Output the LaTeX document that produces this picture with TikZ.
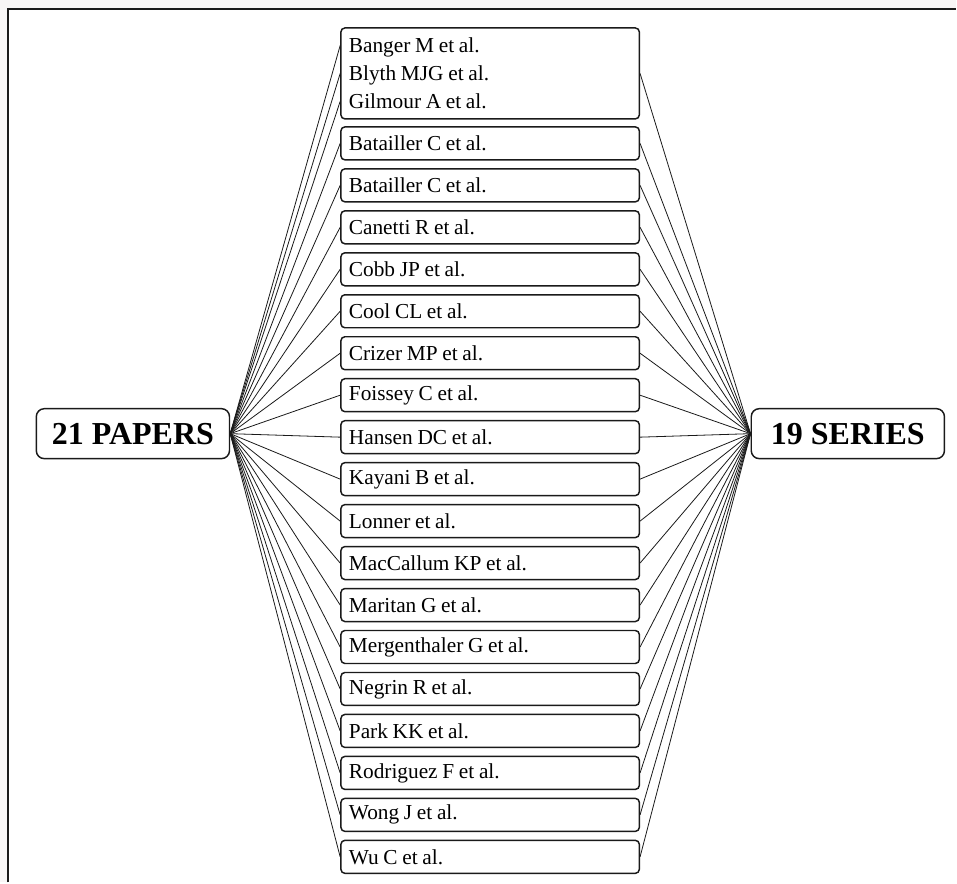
\documentclass[tikz,border=0pt]{standalone}
\usepackage{fontspec}
\setmainfont{Liberation Serif}
\usepackage{tikz}
\usetikzlibrary{positioning, calc}
\definecolor{pagegray}{HTML}{F8F6F6}
\definecolor{inkblack}{HTML}{1A1A1A}
\newcommand\tightspace{\spaceskip=0.22em\relax}

\tikzset{
  paper/.style={draw=inkblack, line width=1.1pt, rounded corners=3pt,
    minimum height=24.75pt, text width=212pt, inner xsep=6pt, align=left,
    font=\fontsize{16}{21}\selectfont,
    execute at begin node=\tightspace},
  hub/.style={draw=inkblack, line width=1.1pt, rounded corners=6pt,
    minimum width=145pt, minimum height=37.5pt,
    font=\fontsize{24}{28}\selectfont\bfseries},
  link/.style={inkblack, line width=0.6pt}
}

\begin{document}
\begin{tikzpicture}[x=0.75pt, y=-0.75pt]
    % Page and frame
    \fill[pagegray] (0,0) rectangle (957,883);
    \fill[white] (8,9) rectangle (957,883);
    \draw[inkblack, line width=1.1pt] (8,883) -- (8,9) -- (957,9);
    \useasboundingbox (0,0) rectangle (957,883);

    % Hubs
    \node[hub] (papers) at (133,434) {21 PAPERS};
    \node[hub] (series) at (848.5,434) {19 SERIES};

    % Shared series (three papers)
    \node[paper, minimum height=68.25pt] (grp) at (490.5,73.5)
        {Banger M et al.\\Blyth MJG et al.\\Gilmour A et al.};
    \coordinate (ban) at ([yshift=21pt]grp.west);
    \coordinate (bly) at (grp.west);
    \coordinate (gil) at ([yshift=-21pt]grp.west);

    % One paper per series
    \node[paper] (bat1) at (490.5,143.5) {Batailler C et al.};
    \node[paper] (bat2) at (490.5,185.5) {Batailler C et al.};
    \node[paper] (can)  at (490.5,227.5) {Canetti R et al.};
    \node[paper] (cob)  at (490.5,269.5) {Cobb JP et al.};
    \node[paper] (coo)  at (490.5,311.5) {Cool CL et al.};
    \node[paper] (cri)  at (490.5,353.5) {Crizer MP et al.};
    \node[paper] (foi)  at (490.5,395.5) {Foissey C et al.};
    \node[paper] (han)  at (490.5,437.5) {Hansen DC et al.};
    \node[paper] (kay)  at (490.5,479.5) {Kayani B et al.};
    \node[paper] (lon)  at (490.5,521.5) {Lonner et al.};
    \node[paper] (mac)  at (490.5,563.5) {MacCallum KP et al.};
    \node[paper] (mar)  at (490.5,605.5) {Maritan G et al.};
    \node[paper] (mer)  at (490.5,647.5) {Mergenthaler G et al.};
    \node[paper] (neg)  at (490.5,689.5) {Negrin R et al.};
    \node[paper] (par)  at (490.5,731.5) {Park KK et al.};
    \node[paper] (rod)  at (490.5,773.5) {Rodriguez F et al.};
    \node[paper] (won)  at (490.5,815.5) {Wong J et al.};
    \node[paper] (wu)   at (490.5,857.5) {Wu C et al.};

    % Papers -> boxes
    \foreach \p in {ban, bly, gil}
        \draw[link] (papers.east) -- (\p);
    \foreach \p in {bat1, bat2, can, cob, coo, cri, foi, han, kay, lon, mac, mar, mer, neg, par, rod, won, wu}
        \draw[link] (papers.east) -- (\p.west);

    % Boxes -> series
    \foreach \p in {grp, bat1, bat2, can, cob, coo, cri, foi, han, kay, lon, mac, mar, mer, neg, par, rod, won, wu}
        \draw[link] (\p.east) -- (series.west);
\end{tikzpicture}
\end{document}
